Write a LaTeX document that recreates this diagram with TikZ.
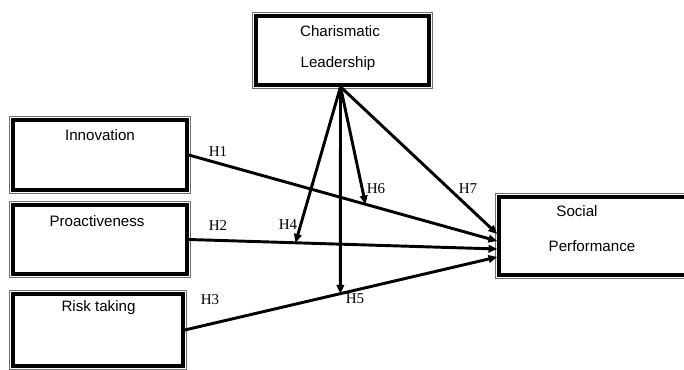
\documentclass[tikz,border=0pt]{standalone}
\usepackage{fontspec}
\setmainfont{Liberation Serif}
\setsansfont{Liberation Sans}
\usetikzlibrary{arrows.meta,positioning,calc}
\definecolor{cA}{HTML}{000000}
\definecolor{cR}{HTML}{6e6e6e}
\tikzset{
  frame/.style={draw=cA,line width=3pt,fill=white},
  rim/.style={draw=cR,line width=.8pt},
  lbl/.style={font=\sffamily\fontsize{12.9}{15}\selectfont,inner sep=0pt,anchor=base},
  hyp/.style={font=\fontsize{12.8}{15}\selectfont,inner sep=0pt},
  arr/.style={-{Triangle[length=7.5pt,width=6.5pt]},line width=2.5pt,cA},
}

\begin{document}
\begin{tikzpicture}[x=.3mm,y=-.3mm]
  \useasboundingbox (0,0) rectangle (684,370);
  \clip (0,0) rectangle (684,370);
  % boxes
  \node[frame,minimum width=51.9mm,minimum height=20.7mm] (cl) at (342.5,50.5){};
  \node[frame,minimum width=52.2mm,minimum height=21mm] (inn) at (100,155){};
  \node[frame,minimum width=52.2mm,minimum height=20.7mm] (pro) at (100,239.5){};
  \node[frame,minimum width=51mm,minimum height=21.6mm] (risk) at (98,330){};
  \node[frame,minimum width=56.1mm,minimum height=23.4mm] (sp) at (592.5,236){};
  \foreach \b in {cl,inn,pro,risk,sp}{
     \draw[rim] ([shift={(-1.3pt,1.3pt)}]\b.north west) rectangle
                ([shift={(1.3pt,-1.3pt)}]\b.south east);
  }
  % box texts
  \node[lbl] (clA) at (340,37){Charismatic};
  \node[lbl] (clB) at (338,68){Leadership};
  \node[lbl] (innA) at (100,141){Innovation};
  \node[lbl] (proA) at (97,227){Proactiveness};
  \node[lbl] (riskA) at (98.5,312){Risk taking};
  \node[lbl] (spA) at (577,217){Social};
  \node[lbl] (spB) at (592,252){Performance};
  % direct paths
  \draw[arr] (inn.east) -- coordinate[pos=.573] (h6) ($(sp.west)+(0,5)$);
  \draw[arr] (pro.east) -- coordinate[pos=.346] (h4) ($(sp.west)+(0,13)$);
  \draw[arr] (risk.east) -- coordinate[pos=.498] (h5) ($(sp.west)+(0,21)$);
  % moderating paths
  \coordinate (cs) at ($(cl.south)+(-2,0)$);
  \draw[arr] (cs) -- (h4);
  \draw[arr] (cs) -- (h5);
  \draw[arr] (cs) -- (h6);
  \draw[arr] (cs) -- ($(sp.west)+(0,-2)$);
  % hypotheses
  \node[hyp] (H1) at (218,152){H1};
  \node[hyp] (H2) at (218,226){H2};
  \node[hyp] (H3) at (210,300){H3};
  \node[hyp] (H4) at (288,225){H4};
  \node[hyp] (H5) at (355,299){H5};
  \node[hyp] (H6) at (376,189){H6};
  \node[hyp] (H7) at (468,189){H7};
\end{tikzpicture}
\end{document}
